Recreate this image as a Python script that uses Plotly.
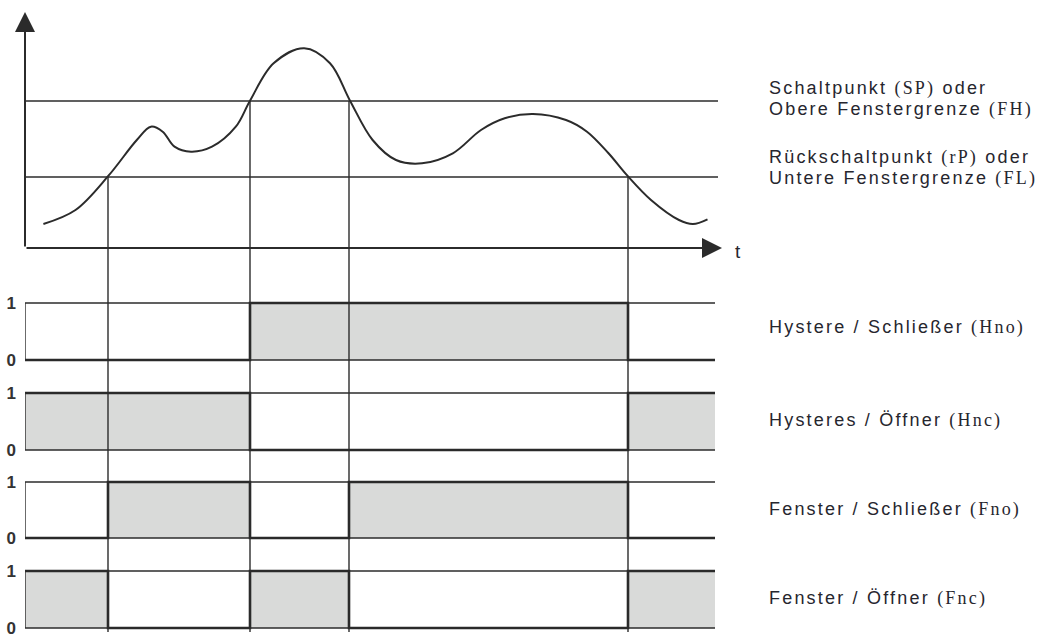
import plotly.graph_objects as go

W, H = 1046, 637

# ---------------- data ----------------
# measured signal over time (arbitrary units)
curve_t = [1.84, 5.05, 8.35, 11.18, 12.59, 13.77, 14.95, 16.6, 18.7, 21.08, 22.5, 24.86,
           27.92, 30.5, 32.5, 34.76, 37.1, 39.7, 42.78, 45.6, 47.97, 50.8, 54.1, 56.2,
           58.35, 60.24, 62.6, 65.4, 66.8, 68.25]
curve_v = [2.4, 3.8, 7.23, 10.8, 12.13, 11.63, 10.13, 9.63, 10.13, 12.13, 14.73, 18.47,
           19.97, 18.47, 14.73, 10.8, 8.8, 8.47, 9.47, 11.8, 12.97, 13.4, 12.8, 11.63,
           9.47, 7.23, 4.8, 2.8, 2.4, 2.87]

SP = 14.7   # Schaltpunkt / obere Fenstergrenze
RP = 7.1    # Rückschaltpunkt / untere Fenstergrenze

switch_t = [8.3, 22.5, 32.4, 60.3]
switch_level = [RP, SP, SP, RP]

segment_t = [0.0, 8.3, 22.5, 32.4, 60.3, 69.0]
sig_hno = [0, 0, 1, 1, 0]
sig_hnc = [1, 1, 0, 0, 1]
sig_fno = [0, 1, 0, 1, 0]
sig_fnc = [1, 0, 1, 0, 1]
signals = [sig_hno, sig_hnc, sig_fno, sig_fnc]

SERIF = "font-family:'Liberation Serif'"
threshold_lines = [
    f"Schaltpunkt <span style=\"{SERIF}\">(SP)</span> oder",
    f"Obere Fenstergrenze <span style=\"{SERIF}\">(FH)</span>",
    f"Rückschaltpunkt <span style=\"{SERIF}\">(rP)</span> oder",
    f"Untere Fenstergrenze <span style=\"{SERIF}\">(FL)</span>",
]
signal_labels = [
    f"Hystere / Schließer <span style=\"{SERIF}\">(Hno)</span>",
    f"Hysteres / Öffner <span style=\"{SERIF}\">(Hnc)</span>",
    f"Fenster / Schließer <span style=\"{SERIF}\">(Fno)</span>",
    f"Fenster / Öffner <span style=\"{SERIF}\">(Fnc)</span>",
]
t_axis_end = 69.7
thresh_end = 69.3
y_axis_top = 23.6

# ---------------- layout helpers ----------------
LINE = "#2b2b2b"
GRAY = "#d9dad9"
FONT = "Liberation Sans"
TXT = "#26262e"
SPACING = "letter-spacing:2.2px"


def pf(py):
    return 1 - py / H


top_dom = [pf(260), 1.0]
top_rng = [-1.2, 24.8]
one_px = [303, 393, 482, 571]
zero_px = [360, 450, 538, 628]
label_px = [327, 420, 509, 598]
thr_label_px = [88, 109, 158, 179]
PAD = 8

fig = go.Figure()

# top curve
fig.add_trace(go.Scatter(x=curve_t, y=curve_v, mode="lines",
                         line=dict(color=LINE, width=2, shape="spline", smoothing=1.0),
                         xaxis="x", yaxis="y", hoverinfo="skip", showlegend=False))

layout_axes = {}
for k, sig in enumerate(signals):
    h = zero_px[k] - one_px[k]
    dom = [pf(zero_px[k] + PAD), pf(one_px[k] - PAD)]
    rng = [-PAD / h, 1 + PAD / h]
    yname = f"y{k + 2}"
    layout_axes[f"yaxis{k + 2}"] = dict(
        domain=dom, range=rng, anchor="x", showgrid=False, zeroline=False,
        showline=False, ticks="", tickvals=[0, 1], ticktext=["0", "1"],
        ticklabelstandoff=8, automargin=False, ticklabeloverflow="allow",
        tickfont=dict(family=FONT, size=17, color="#333", weight="bold"),
        fixedrange=True)
    fig.add_trace(go.Scatter(x=segment_t, y=sig + [sig[-1]], mode="lines",
                             line=dict(color=LINE, width=2.6, shape="hv"),
                             fill="tozeroy", fillcolor=GRAY,
                             xaxis="x", yaxis=yname, hoverinfo="skip", showlegend=False))
    for lvl in (0, 1):
        fig.add_shape(type="line", xref="x", yref=yname, x0=segment_t[0], x1=segment_t[-1],
                      y0=lvl, y1=lvl, line=dict(color=LINE, width=1.4))
    fig.add_shape(type="line", xref="x", yref=yname, x0=segment_t[0], x1=segment_t[0],
                  y0=0, y1=1, line=dict(color=LINE, width=1.4))
    fig.add_annotation(xref="x", yref="paper", x=74.2, y=pf(label_px[k]),
                       text=f"<span style=\"{SPACING}\">{signal_labels[k]}</span>",
                       showarrow=False, xanchor="left", yanchor="middle",
                       font=dict(family=FONT, size=18, color=TXT))

# threshold lines
for lvl in (SP, RP):
    fig.add_shape(type="line", xref="x", yref="y", x0=0, x1=thresh_end, y0=lvl, y1=lvl,
                  line=dict(color=LINE, width=1.4))

# vertical switch lines from threshold crossing down through all panels
for t, lvl in zip(switch_t, switch_level):
    ytop = top_dom[0] + (lvl - top_rng[0]) / (top_rng[1] - top_rng[0]) * (top_dom[1] - top_dom[0])
    fig.add_shape(type="line", xref="x", yref="paper", x0=t, x1=t, y0=pf(632), y1=ytop,
                  line=dict(color=LINE, width=1.4))

# axes with arrows
for (xe, ye) in ((t_axis_end, 0), (0, y_axis_top)):
    fig.add_annotation(x=xe, y=ye, ax=0, ay=0, xref="x", yref="y", axref="x", ayref="y",
                       text="", showarrow=True, arrowhead=2, arrowsize=2.0, arrowwidth=2,
                       arrowcolor=LINE, standoff=0)
fig.add_annotation(x=70.8, y=-0.3, xref="x", yref="y", text="t", showarrow=False,
                   xanchor="left", yanchor="middle",
                   font=dict(family=FONT, size=19, color=TXT))

# threshold labels
for lab, py in zip(threshold_lines, thr_label_px):
    fig.add_annotation(xref="x", yref="paper", x=74.2, y=pf(py),
                       text=f"<span style=\"{SPACING}\">{lab}</span>",
                       showarrow=False, xanchor="left", yanchor="middle", align="left",
                       font=dict(family=FONT, size=18, color=TXT))

fig.update_layout(
    width=W, height=H,
    margin=dict(l=25, r=0, t=0, b=0, pad=0, autoexpand=False),
    paper_bgcolor="white", plot_bgcolor="white",
    showlegend=False,
    xaxis=dict(range=[0, (W - 25) / 10], visible=False, fixedrange=True, anchor="y",
               automargin=False),
    yaxis=dict(domain=top_dom, range=top_rng, visible=False, fixedrange=True, anchor="x",
               automargin=False),
    **layout_axes,
)

fig.write_html("out.html", config={"displayModeBar": False},
               post_script="document.body.style.margin='0';document.body.style.overflow='hidden';")
